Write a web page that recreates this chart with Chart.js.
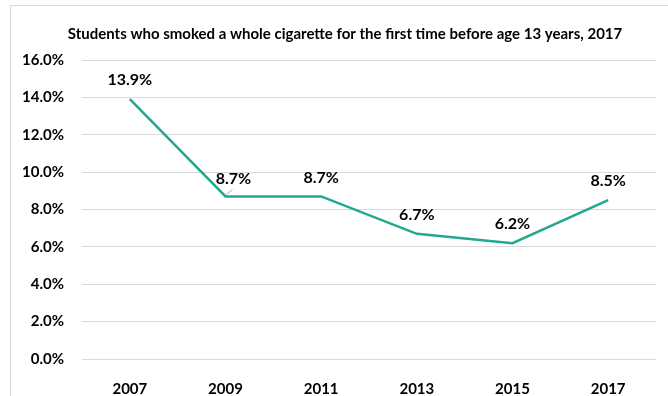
<!DOCTYPE html>
<html>
<head>
<meta charset="utf-8">
<script src="https://cdn.jsdelivr.net/npm/chart.js@4.4.1/dist/chart.umd.min.js"></script>
<style>
  html, body { margin: 0; padding: 0; background: #fff; }
  #wrap { width: 668px; height: 396px; position: relative; }
</style>
</head>
<body>
<div id="wrap"><canvas id="smokeChart"></canvas></div>
<script>
const years = ["2007", "2009", "2011", "2013", "2015", "2017"];
const pctSmoked = [13.9, 8.7, 8.7, 6.7, 6.2, 8.5];
const titleText = "Students who smoked a whole cigarette for the first time before age 13 years, 2017";

const FONT = "Lato, 'Liberation Sans', sans-serif";

// outer frame, the title, and value labels above each point
const labelPlugin = {
    id: "labelPlugin",
    beforeDraw(chart) {
        const c = chart.ctx;
        c.save();
        c.strokeStyle = "#d9d9d9";
        c.lineWidth = 1;
        c.strokeRect(10.5, 5.5, 700, 420);
        c.font = "bold 15px " + FONT;
        c.fillStyle = "#000";
        c.textAlign = "center";
        c.textBaseline = "middle";
        c.fillText(titleText, 345, 34);
        c.restore();
    },
    afterDatasetsDraw(chart) {
        const c = chart.ctx;
        const meta = chart.getDatasetMeta(0);
        c.save();
        c.font = "bold 16px " + FONT;
        c.fillStyle = "#000";
        c.textAlign = "center";
        c.textBaseline = "middle";
        meta.data.forEach((pt, i) => {
            let dx = 0, dy = -19;
            if (i === 1) {
                dx = 8; dy = -18;
                c.strokeStyle = "#a6a6a6";
                c.lineWidth = 1;
                c.beginPath();
                c.moveTo(pt.x + 1, pt.y - 2);
                c.lineTo(pt.x + 7, pt.y - 7);
                c.stroke();
            }
            c.fillText(pctSmoked[i].toFixed(1) + "%", pt.x + dx, pt.y + dy);
        });
        c.restore();
    }
};

new Chart(document.getElementById("smokeChart").getContext("2d"), {
    type: "line",
    data: {
        labels: years,
        datasets: [
            {
                data: pctSmoked,
                borderColor: "#21a88f",
                borderWidth: 2.5,
                pointRadius: 0,
                tension: 0,
                fill: false,
            },
        ],
    },
    options: {
        responsive: true,
        maintainAspectRatio: false,
        animation: false,
        layout: { padding: { left: 10, right: 12, top: 60, bottom: 0 } },
        plugins: {
            legend: { display: false },
            tooltip: { enabled: false },
            title: { display: false },
        },
        scales: {
            x: {
                offset: true,
                grid: { display: false },
                border: { display: false },
                ticks: {
                    color: "#000",
                    font: { family: FONT, size: 15, weight: "bold" },
                    padding: 13,
                    maxRotation: 0,
                },
                afterFit(axis) { axis.height = 37; },
            },
            y: {
                min: 0,
                max: 16,
                grid: { color: "#d9d9d9", drawTicks: false },
                border: { display: false },
                ticks: {
                    stepSize: 2,
                    color: "#000",
                    font: { family: FONT, size: 15, weight: "bold" },
                    padding: 18,
                    callback: (v) => v.toFixed(1) + "%",
                },
                afterFit(axis) { axis.width = 72; },
            },
        },
    },
    plugins: [labelPlugin],
});
</script>
</body>
</html>
